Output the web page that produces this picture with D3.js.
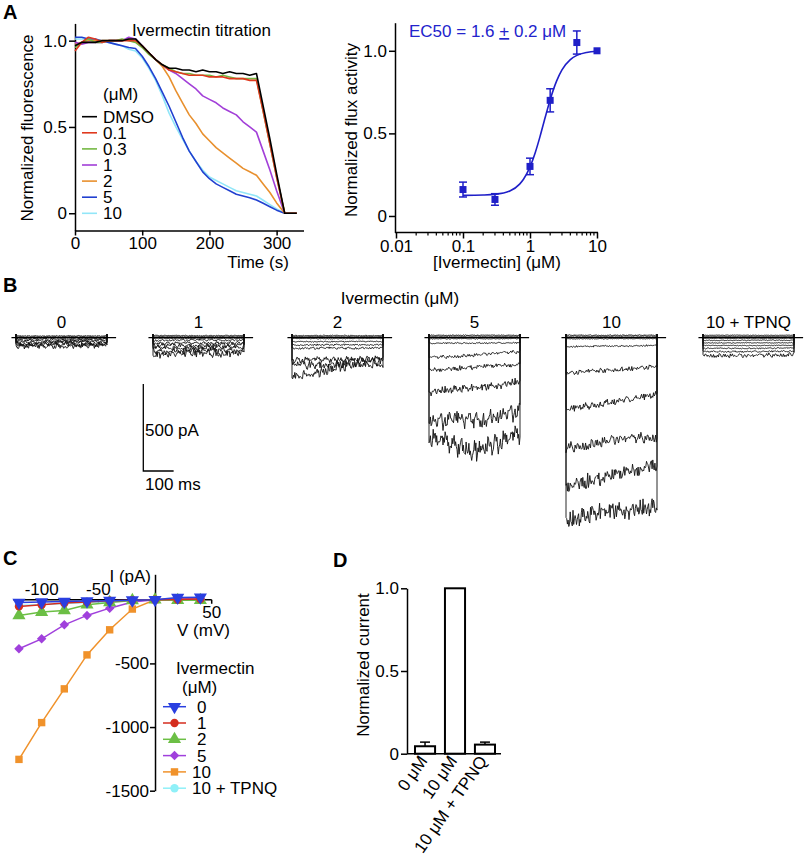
<!DOCTYPE html>
<html><head><meta charset="utf-8">
<script src="https://cdn.jsdelivr.net/npm/d3@7"></script>
<style>body{margin:0;background:#fff}</style>
</head><body><svg id="c" width="805" height="863"></svg>
<script>
// ---------------- DATA ----------------
// Panel A (left): fluorescence traces
const timeS = [0,10,20,30,40,50,60,70,80,90,100,110,120,130,140,150,160,170,180,190,200,210,220,230,240,250,260,270,280,290,300,312,320,330];
const fDMSO = [0.97,0.99,0.99,0.99,1.00,1.00,1.00,1.00,1.01,1.01,0.97,0.93,0.89,0.86,0.84,0.84,0.83,0.83,0.82,0.83,0.82,0.82,0.81,0.82,0.81,0.81,0.80,0.81,0.62,0.43,0.23,0,0,0];
const f01 = [0.94,0.99,1.02,1.01,0.99,1.00,1.00,1.00,1.00,1.00,0.97,0.93,0.89,0.86,0.83,0.82,0.81,0.80,0.80,0.80,0.79,0.79,0.79,0.78,0.78,0.78,0.77,0.77,0.59,0.40,0.21,0,0,0];
const f03 = [0.96,0.99,1.01,0.99,0.99,1.00,1.00,1.01,1.00,0.99,0.96,0.92,0.89,0.86,0.84,0.82,0.81,0.81,0.80,0.80,0.80,0.79,0.80,0.79,0.78,0.78,0.78,0.78,0.59,0.40,0.21,0,0,0];
const f1 = [0.99,0.98,0.99,0.99,0.99,1.00,1.00,1.00,1.02,1.01,0.97,0.93,0.89,0.86,0.83,0.81,0.78,0.75,0.72,0.68,0.66,0.64,0.61,0.59,0.57,0.53,0.50,0.47,0.36,0.25,0.13,0,0,0];
const f2 = [0.98,0.99,1.00,1.00,1.00,1.00,1.00,1.00,1.01,1.00,0.97,0.93,0.89,0.85,0.79,0.71,0.64,0.57,0.52,0.46,0.42,0.38,0.35,0.32,0.29,0.26,0.24,0.22,0.17,0.12,0.06,0,0,0];
const f5 = [1.02,1.02,1.01,1.01,1.00,0.99,0.98,0.97,0.96,0.955,0.91,0.85,0.78,0.70,0.62,0.53,0.44,0.36,0.30,0.24,0.20,0.17,0.15,0.13,0.11,0.10,0.09,0.077,0.058,0.038,0.018,0,0,0];
const f10 = [1.01,1.01,1.01,1.00,1.00,0.99,0.98,0.97,0.95,0.94,0.90,0.84,0.77,0.68,0.58,0.50,0.43,0.36,0.30,0.25,0.21,0.19,0.17,0.15,0.13,0.12,0.11,0.10,0.075,0.05,0.025,0,0,0];
const fluorLabels = ["DMSO","0.1","0.3","1","2","5","10"];
const fluorColors = ["#000000","#e0391e","#74b843","#a23fd8","#e8902e","#2140d0","#92e6f8"];
const timeTicks = [0,100,200,300];

// Panel A (right): dose response
const doseConc = [0.1,0.3,1,2,5,10];
const doseMean = [0.16,0.10,0.30,0.70,1.05,1.00];
const doseSem = [0.045,0.035,0.05,0.07,0.07,0];
const fitConc = [0.1,0.2,0.3,0.5,0.7,0.8,1,1.2,1.4,1.6,1.8,2,2.5,3,4,5,7,10];
const fitVal = [0.125,0.127,0.131,0.151,0.193,0.222,0.297,0.385,0.476,0.563,0.639,0.704,0.818,0.885,0.947,0.972,0.990,0.997];
const logTicks = [0.01,0.1,1,10];

// Panel B: current traces (pA) per sweep, V = -120..+40 mV
const bLabels = ["0","1","2","5","10","10 + TPNQ"];
const bStart = [
  [-50,-42,-34,-26,-18,-10,-3,5,10],
  [-95,-78,-60,-46,-32,-15,-4,6,12],
  [-230,-160,-128,-61,-42,-23,-5,6,12],
  [-578,-483,-310,-186,-115,-32,-6,8,14],
  [-1059,-847,-635,-415,-205,-52,-6,8,14],
  [-100,-80,-62,-45,-30,-15,-3,7,14]];
const bMid = [
  [-48,-40,-32,-24,-17,-9,-3,5,10],
  [-92,-75,-58,-44,-31,-14,-4,6,12],
  [-170,-150,-125,-60,-41,-22,-5,6,12],
  [-650,-470,-290,-170,-100,-31,-6,8,14],
  [-990,-800,-590,-370,-185,-48,-6,8,14],
  [-105,-80,-61,-45,-30,-15,-3,7,14]];
const bEnd = [
  [-45,-38,-30,-22,-15,-8,-2,5,10],
  [-85,-70,-55,-42,-29,-13,-3,6,12],
  [-150,-135,-120,-58,-40,-22,-4,6,12],
  [-560,-425,-253,-153,-80,-30,-5,8,14],
  [-980,-722,-570,-330,-167,-45,-5,8,14],
  [-95,-78,-60,-44,-29,-14,-3,7,14]];
const bNoise = [
  [18,15,13,11,9,7,4,3,3],
  [26,22,18,14,10,7,4,3,3],
  [36,28,20,8,6,4,3,3,3],
  [70,55,26,16,11,5,3,3,3],
  [60,50,34,24,15,6,3,3,3],
  [14,6,4,3,3,3,2,2,2]];
const noiseShape = [0.3,-0.6,0.8,-0.2,-0.9,0.5,0.1,-0.4,0.9,-0.7,0.2,0.6,-0.3,-0.8,0.7,0.0,-0.5,0.4,0.9,-0.6,-0.1,0.8,-0.9,0.3,0.5,-0.2,-0.7,0.6,0.1,-0.8,0.9,-0.4,0.2,-0.6,0.7,-0.1,-0.9,0.4,0.6,-0.3,0.8,-0.5,0.0,-0.8,0.5,0.3,-0.7,0.9,-0.2,-0.4,0.6,-0.9,0.1,0.7,-0.6,0.4,-0.1,0.8,-0.3,-0.7,0.5,0.2,-0.8,0.9,-0.5,0.0,0.6,-0.4,-0.9,0.3,0.7,-0.2,0.4,-0.6,0.8,-0.1,-0.7,0.5,0.2,-0.9,0.6,-0.3,0.9,-0.5,0.1,-0.8,0.4,0.7,-0.2,-0.6,0.3,0.8,-0.4,-0.1,0.5,-0.7,0.9,-0.3,0.2,-0.5];

// Panel C: I-V
const ivVolt = [-120,-100,-80,-60,-40,-20,0,20,40];
const iv0 = [-21,-18,-14,-10,-7,-3,0,18,20];
const iv1 = [-52,-39,-26,-18,-8,-3,0,2,5];
const iv2 = [-123,-97,-84,-39,-21,-5,0,-4,-4];
const iv5 = [-385,-307,-197,-123,-66,-18,0,5,5];
const iv10 = [-1254,-965,-700,-433,-236,-73,0,8,8];
const ivTPNQ = [-45,-38,-30,-22,-15,-8,0,3,5];
const ivLabels = ["0","1","2","5","10","10 + TPNQ"];
const ivColors = ["#2a3fe0","#d42d1e","#6cbf45","#a040dc","#f0922b","#8ff0f8"];
const ivTicks = [-500,-1000,-1500];

// Panel D: normalized current
const dCats = ["0 μM","10 μM","10 μM + TPNQ"];
const dMean = [0.045,1.0,0.055];
const dErr = [0.025,0,0.015];

// ---------------- DRAW ----------------
const FONT = "'Liberation Sans', Arial, Helvetica, sans-serif";
const svg = d3.select("#c").attr("font-family", FONT);
const FS = 17;

function styleAxis(g){
  g.selectAll("path,line").attr("stroke","#000").attr("stroke-width",1.5);
  g.selectAll("text").attr("font-size",FS).attr("fill","#000").attr("font-family",FONT);
}
function label(x,y,s,opt={}){
  const t = svg.append("text").attr("x",x).attr("y",y).text(s)
    .attr("font-size",opt.fs||FS).attr("fill",opt.fill||"#000")
    .attr("text-anchor",opt.anchor||"start");
  if(opt.bold) t.attr("font-weight","bold");
  if(opt.rot!==undefined) t.attr("transform",`rotate(${opt.rot},${x},${y})`);
  return t;
}
const fmtTick = d => d===0 ? "0" : d3.format(".1f")(d);

// Panel letters
label(3,19,"A",{fs:20,bold:true});
label(3,292,"B",{fs:20,bold:true});
label(3,565,"C",{fs:20,bold:true});
label(333,567,"D",{fs:20,bold:true});

// ---- A left ----
{
  const x = d3.scaleLinear().domain([0,340]).range([75,303.5]);
  const y = d3.scaleLinear().domain([-0.1,1.1]).range([230.5,23.4]);
  const gx = svg.append("g").attr("transform","translate(0,230.5)")
    .call(d3.axisBottom(x).tickValues(timeTicks).tickSize(5).tickSizeOuter(0).tickPadding(1));
  styleAxis(gx);
  const gy = svg.append("g").attr("transform","translate(75,0)")
    .call(d3.axisLeft(y).tickValues([0,0.5,1]).tickFormat(fmtTick).tickSize(6).tickSizeOuter(0).tickPadding(2));
  styleAxis(gy);
  const series = [fDMSO,f01,f03,f1,f2,f5,f10];
  const line = d3.line().x((d,i)=>x(timeS[i])).y(d=>y(d));
  for(let k=series.length-1;k>=0;k--){
    svg.append("path").attr("d",line(series[k])).attr("fill","none")
      .attr("stroke",fluorColors[k]).attr("stroke-width",1.6).attr("stroke-linejoin","round");
  }
  label(132,36,"Ivermectin titration");
  label(33,128,"Normalized fluorescence",{anchor:"middle",rot:-90});
  label(258,268,"Time (s)",{anchor:"middle"});
  label(103,100,"(μM)");
  fluorLabels.forEach((s,i)=>{
    const yy = 116.7 + i*16.1;
    svg.append("line").attr("x1",82).attr("x2",97).attr("y1",yy).attr("y2",yy)
      .attr("stroke",fluorColors[i]).attr("stroke-width",1.6);
    label(103,yy+6,s);
  });
}

// ---- A right ----
{
  const x = d3.scaleLog().domain([0.01,10]).range([396,597]);
  const y = d3.scaleLinear().domain([-0.1,1.17]).range([232.5,22.7]);
  const gx = svg.append("g").attr("transform","translate(0,232.5)")
    .call(d3.axisBottom(x).tickValues(logTicks).tickFormat(d=>String(d)).tickSize(6).tickSizeOuter(0).tickPadding(1));
  styleAxis(gx);
  gx.select(".domain").attr("d","M395,0H598");
  const minor = [];
  [0.01,0.1,1].forEach(dec=>{for(let m=2;m<=9;m++) minor.push(dec*m);});
  svg.append("g").selectAll("line").data(minor).join("line")
    .attr("x1",d=>x(d)).attr("x2",d=>x(d)).attr("y1",232.5).attr("y2",235.5)
    .attr("stroke","#000").attr("stroke-width",1.2);
  const gy = svg.append("g").attr("transform","translate(395,0)")
    .call(d3.axisLeft(y).tickValues([0,0.5,1]).tickFormat(fmtTick).tickSize(6).tickSizeOuter(0).tickPadding(2));
  styleAxis(gy);
  const blue = "#1f1fc8";
  const line = d3.line().x((d,i)=>x(fitConc[i])).y(d=>y(d)).curve(d3.curveMonotoneX);
  svg.append("path").attr("d",line(fitVal)).attr("fill","none").attr("stroke",blue).attr("stroke-width",1.6);
  const g = svg.append("g");
  doseConc.forEach((c,i)=>{
    const cx = x(c), m = doseMean[i], e = doseSem[i];
    if(e>0){
      g.append("line").attr("x1",cx).attr("x2",cx).attr("y1",y(m+e)).attr("y2",y(m-e)).attr("stroke",blue).attr("stroke-width",1.5);
      [m+e,m-e].forEach(v=>g.append("line").attr("x1",cx-4).attr("x2",cx+4).attr("y1",y(v)).attr("y2",y(v)).attr("stroke",blue).attr("stroke-width",1.5));
    }
    g.append("rect").attr("x",cx-3.5).attr("y",y(m)-3.5).attr("width",7).attr("height",7).attr("fill",blue);
  });
  const t = label(409,37,"",{fill:"#2323cc"});
  t.append("tspan").text("EC50 = 1.6 ");
  t.append("tspan").attr("text-decoration","underline").text("+");
  t.append("tspan").text(" 0.2 μM");
  label(357,130,"Normalized flux activity",{anchor:"middle",rot:-90});
  label(497,268,"[Ivermectin] (μM)",{anchor:"middle"});
}

// ---- B ----
{
  const base = 337.7;
  const yB = d3.scaleLinear().domain([0,-1000]).range([base, base+174]);
  const x0s = [16,153,292,429,566,703];
  const nS = 130;
  const L = noiseShape.length;
  label(400,304,"Ivermectin (μM)",{anchor:"middle"});
  bLabels.forEach((lab,p)=>{
    const tx = d3.scaleLinear().domain([0,300]).range([x0s[p], x0s[p]+91]);
    label(tx(150),328,lab,{anchor:"middle"});
    const g = svg.append("g");
    for(let s=0;s<9;s++){
      const pts = [[tx(0), yB(20)]];
      for(let i=0;i<=nS;i++){
        const t = i*300/nS;
        const lvl = t<=150 ? bStart[p][s] + (bMid[p][s]-bStart[p][s])*t/150
                           : bMid[p][s] + (bEnd[p][s]-bMid[p][s])*(t-150)/150;
        const n = 0.65*noiseShape[(i*3 + s*37 + p*13) % L] + 0.45*noiseShape[(i*7 + s*19 + p*29 + 5) % L];
        pts.push([tx(t), yB(lvl + bNoise[p][s]*n)]);
      }
      pts.push([tx(300), yB(20)]);
      g.append("path").attr("d",d3.line()(pts)).attr("fill","none")
        .attr("stroke","#111").attr("stroke-width",0.9).attr("stroke-linejoin","round");
    }
    svg.append("line").attr("x1",tx(-15)).attr("x2",tx(330)).attr("y1",yB(0)).attr("y2",yB(0))
      .attr("stroke","#000").attr("stroke-width",1.2);
  });
  // scale bar
  const txs = d3.scaleLinear().domain([0,300]).range([0,91]);
  const bx = 143.3, by = 471;
  const h = yB(-500)-yB(0);
  svg.append("path").attr("d",`M${bx},${by-h}V${by}H${bx+txs(100)}`).attr("fill","none").attr("stroke","#000").attr("stroke-width",1.3);
  label(145,436,"500 pA");
  label(145,490,"100 ms");
}

// ---- C ----
{
  const x = d3.scaleLinear().domain([-125,50]).range([13.3,211.7]);
  const y = d3.scaleLinear().domain([-1500,200]).range([790.7,574.3]);
  const y0 = y(0), x0 = x(0);
  svg.append("line").attr("x1",x(-125)).attr("x2",x(50)).attr("y1",y0).attr("y2",y0).attr("stroke","#000").attr("stroke-width",1.5);
  [-100,-50,50].forEach(v=>svg.append("line").attr("x1",x(v)).attr("x2",x(v)).attr("y1",y0).attr("y2",y0+4).attr("stroke","#000").attr("stroke-width",1.5));
  label(x(-100),595,"-100",{anchor:"middle"});
  label(x(-50),595,"-50",{anchor:"middle"});
  label(x(50),618,"50",{anchor:"middle"});
  const gy = svg.append("g").attr("transform",`translate(${x0},0)`)
    .call(d3.axisLeft(y).tickValues(ivTicks).tickFormat(d=>String(d)).tickSize(5).tickSizeOuter(0).tickPadding(1));
  styleAxis(gy);
  label(151,582,"I (pA)",{anchor:"end"});
  label(177,636,"V (mV)");
  const series = [iv0,iv1,iv2,iv5,iv10,ivTPNQ];
  const syms = [
    {t:d3.symbolTriangle, s:75, r:180},
    {t:d3.symbolCircle, s:55, r:0},
    {t:d3.symbolTriangle, s:75, r:0},
    {t:d3.symbolSquare, s:45, r:45},
    {t:d3.symbolSquare, s:55, r:0},
    {t:d3.symbolCircle, s:55, r:0}];
  const line = d3.line().x((d,i)=>x(ivVolt[i])).y(d=>y(d));
  for(let k=series.length-1;k>=0;k--){
    svg.append("path").attr("d",line(series[k])).attr("fill","none").attr("stroke",ivColors[k]).attr("stroke-width",1.5);
    svg.append("g").selectAll("path").data(series[k]).join("path")
      .attr("d",d3.symbol(syms[k].t,syms[k].s))
      .attr("transform",(d,i)=>`translate(${x(ivVolt[i])},${y(d)}) rotate(${syms[k].r})`)
      .attr("fill",ivColors[k]);
  }
  label(176,674,"Ivermectin");
  label(182,693,"(μM)");
  ivLabels.forEach((s,i)=>{
    const yy = 706.7 + i*16.3;
    svg.append("line").attr("x1",163).attr("x2",186).attr("y1",yy).attr("y2",yy).attr("stroke",ivColors[i]).attr("stroke-width",1.5);
    svg.append("path").attr("d",d3.symbol(syms[i].t,syms[i].s)).attr("transform",`translate(174.5,${yy}) rotate(${syms[i].r})`).attr("fill",ivColors[i]);
    label(s.length===1?197:192, yy+6, s);
  });
}

// ---- D ----
{
  const y = d3.scaleLinear().domain([0,1]).range([753.7,588.3]);
  const x = d3.scaleBand().domain(dCats).range([409,501]).paddingInner(0.33).paddingOuter(0.2);
  const gy = svg.append("g").attr("transform","translate(407,0)")
    .call(d3.axisLeft(y).tickValues([0,0.5,1]).tickFormat(fmtTick).tickSize(6).tickSizeOuter(0).tickPadding(2));
  styleAxis(gy);
  dCats.forEach((c,i)=>{
    const bx = x(c), bw = x.bandwidth();
    svg.append("rect").attr("x",bx).attr("y",y(dMean[i])).attr("width",bw).attr("height",y(0)-y(dMean[i]))
      .attr("fill","#fff").attr("stroke","#000").attr("stroke-width",2);
    if(dErr[i]>0){
      const cx = bx+bw/2;
      svg.append("line").attr("x1",cx).attr("x2",cx).attr("y1",y(dMean[i])).attr("y2",y(dMean[i]+dErr[i])).attr("stroke","#000").attr("stroke-width",1.5);
      svg.append("line").attr("x1",cx-5).attr("x2",cx+5).attr("y1",y(dMean[i]+dErr[i])).attr("y2",y(dMean[i]+dErr[i])).attr("stroke","#000").attr("stroke-width",1.5);
    }
    const cx = bx+bw/2+3;
    label(cx,761,c,{anchor:"end",rot:-55});
  });
  svg.append("line").attr("x1",407).attr("x2",501).attr("y1",y(0)).attr("y2",y(0)).attr("stroke","#000").attr("stroke-width",1.5);
  label(369,665,"Normalized current",{anchor:"middle",rot:-90});
}
</script></body></html>
